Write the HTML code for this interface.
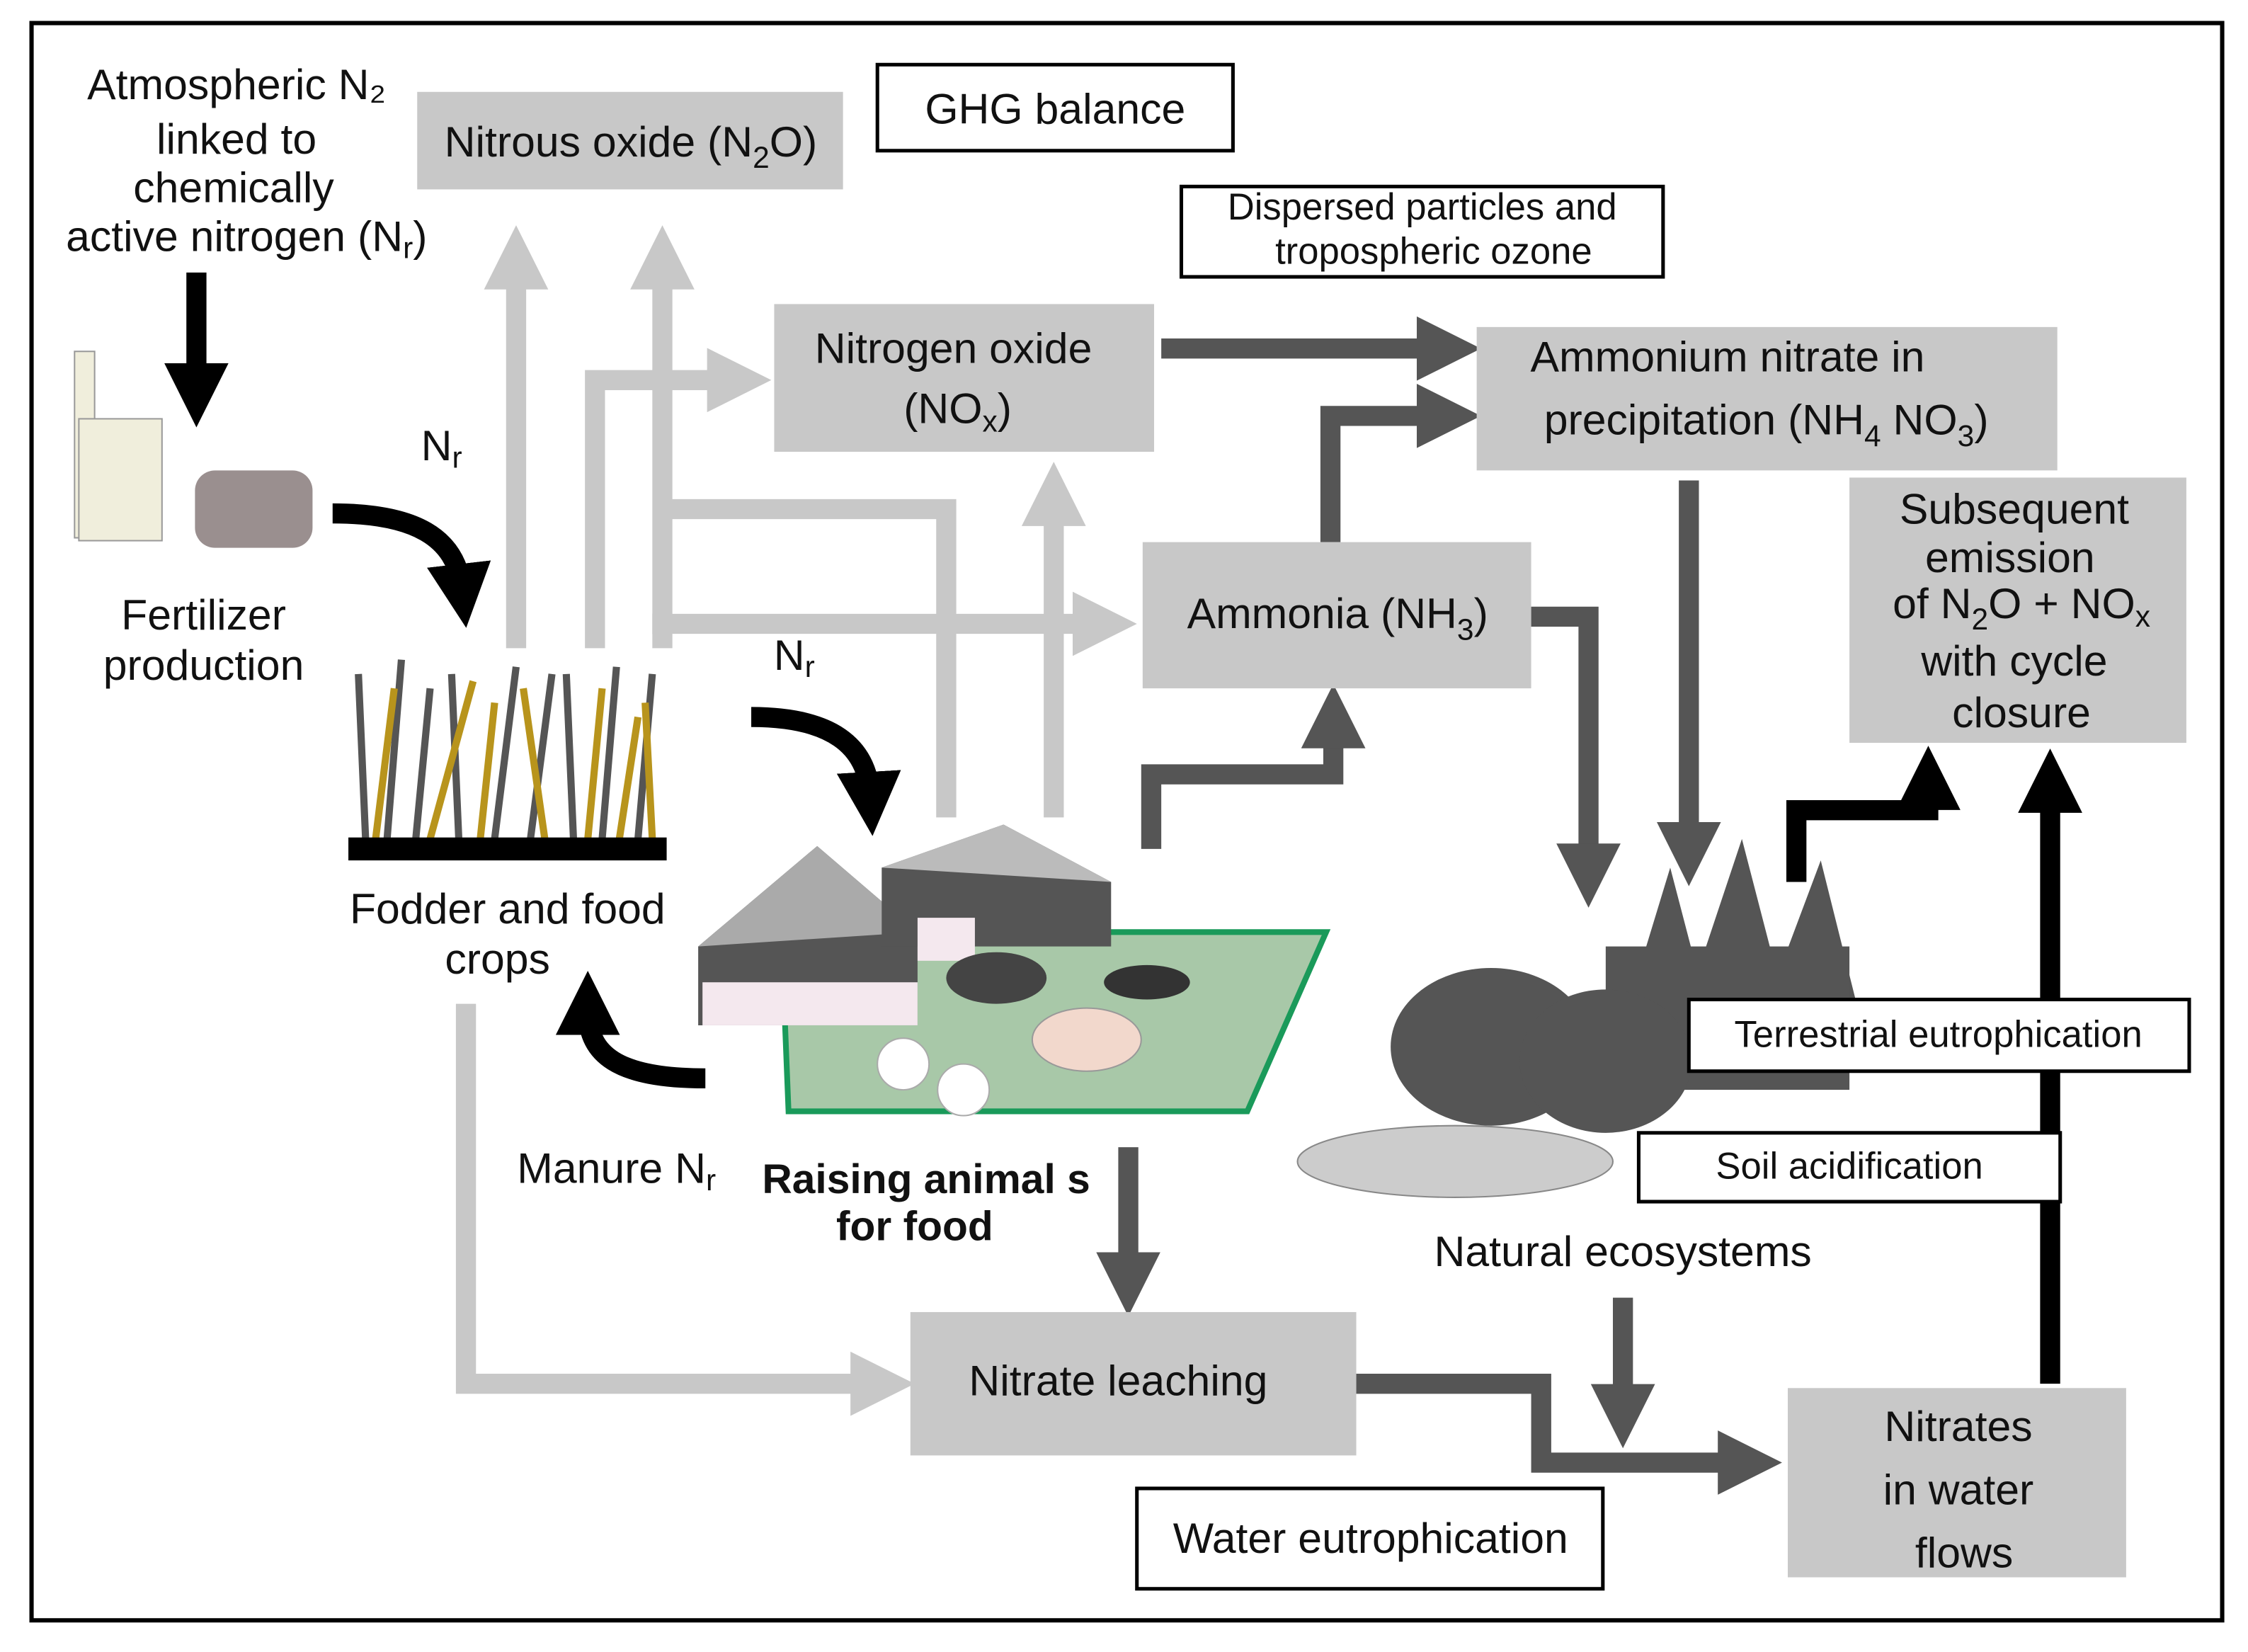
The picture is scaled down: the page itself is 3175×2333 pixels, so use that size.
<!DOCTYPE html>
<html><head><meta charset="utf-8"><style>
html,body{margin:0;padding:0;background:#fff}
svg{display:block}
text{font-family:"Liberation Sans","DejaVu Sans",sans-serif;fill:#111}
</style></head><body>
<svg width="3175" height="2333" viewBox="0 0 1568 1152" xmlns="http://www.w3.org/2000/svg">
<defs>
<marker id="lg" markerWidth="3.2" markerHeight="3.2" refX="1.2" refY="1.6" orient="auto" markerUnits="strokeWidth"><path d="M0,0 L3.2,1.6 L0,3.2 z" fill="#c8c8c8"/></marker>
<marker id="dg" markerWidth="3.2" markerHeight="3.2" refX="1.2" refY="1.6" orient="auto" markerUnits="strokeWidth"><path d="M0,0 L3.2,1.6 L0,3.2 z" fill="#555"/></marker>
<marker id="bk" markerWidth="3.2" markerHeight="3.2" refX="1.2" refY="1.6" orient="auto" markerUnits="strokeWidth"><path d="M0,0 L3.2,1.6 L0,3.2 z" fill="#000"/></marker>
</defs>
<rect x="22" y="16" width="1528" height="1114" fill="#fff" stroke="#000" stroke-width="3"/>

<g fill="none" stroke="#c8c8c8" stroke-width="14">
<path d="M360,452 V185" marker-end="url(#lg)"/>
<path d="M462,452 V185" marker-end="url(#lg)"/>
<path d="M415,452 V265 H510" marker-end="url(#lg)"/>
<path d="M660,570 V355 H462"/>
<path d="M735,570 V350" marker-end="url(#lg)"/>
<path d="M455,435 H765" marker-end="url(#lg)"/>
<path d="M325,700 V965 H610" marker-end="url(#lg)"/>
</g>
<g fill="none" stroke="#555" stroke-width="14">
<path d="M810,243 H1005" marker-end="url(#dg)"/>
<path d="M928,378 V290 H1005" marker-end="url(#dg)"/>
<path d="M803,592 V540 H930 V505" marker-end="url(#dg)"/>
<path d="M1068,430 H1108 V605" marker-end="url(#dg)"/>
<path d="M1178,335 V590" marker-end="url(#dg)"/>
<path d="M787,800 V890" marker-end="url(#dg)"/>
<path d="M946,965 H1075 V1020 H1215" marker-end="url(#dg)"/>
<path d="M1132,905 V982" marker-end="url(#dg)"/>
</g>
<g fill="none" stroke="#000" stroke-width="14">
<path d="M137,190 V270" marker-end="url(#bk)"/>
<path d="M1430,965 V550" marker-end="url(#bk)"/>
<path d="M1253,615 V565 H1345 V548" marker-end="url(#bk)"/>
<path d="M232,358 C290,358 318,375 322,410" marker-end="url(#bk)"/>
<path d="M524,500 C580,500 605,520 607,555" marker-end="url(#bk)"/>
<path d="M492,752 C430,752 410,735 410,705" marker-end="url(#bk)"/>
</g>

<g fill="#c8c8c8">
<rect x="291" y="64" width="297" height="68"/>
<rect x="540" y="212" width="265" height="103"/>
<rect x="1030" y="228" width="405" height="100"/>
<rect x="1290" y="333" width="235" height="185"/>
<rect x="797" y="378" width="271" height="102"/>
<rect x="635" y="915" width="311" height="100"/>
<rect x="1247" y="968" width="236" height="132"/>
</g>
<g fill="#fff" stroke="#000" stroke-width="2.5">
<rect x="612" y="45" width="248" height="60"/>
<rect x="824" y="130" width="336" height="63"/>
<rect x="793" y="1038" width="325" height="70"/>
</g>

<rect x="52" y="245" width="14" height="130" fill="#f0eedc" stroke="#999"/>
<rect x="55" y="292" width="58" height="85" fill="#f0eedc" stroke="#999"/>
<rect x="136" y="328" width="82" height="54" rx="14" fill="#9a8f8f"/>
<g stroke-width="5" fill="none">
<path d="M255,585 L250,470 M270,585 L280,460 M290,585 L300,480 M320,585 L315,470 M345,585 L360,465 M370,585 L385,470 M400,585 L395,470 M420,585 L430,465 M445,585 L455,470" stroke="#555"/>
<path d="M262,585 L275,480 M300,585 L330,475 M335,585 L345,490 M380,585 L365,480 M410,585 L420,480 M432,585 L445,500 M455,585 L450,490" stroke="#b8941c"/>
</g>
<rect x="243" y="584" width="222" height="16" fill="#000"/>
<polygon points="545,650 925,650 870,775 550,775" fill="#a8c8a8" stroke="#1a9a5a" stroke-width="4"/>
<polygon points="487,660 570,590 640,650 640,715 487,715" fill="#555"/>
<polygon points="487,660 570,590 640,650" fill="#aaa"/>
<rect x="490" y="685" width="150" height="30" fill="#f4e8ee"/>
<polygon points="615,605 700,575 775,615 775,660 615,660" fill="#555"/>
<polygon points="615,605 700,575 775,615" fill="#bbb"/>
<rect x="640" y="640" width="40" height="30" fill="#f4e8ee"/>
<ellipse cx="695" cy="682" rx="35" ry="18" fill="#444"/>
<ellipse cx="758" cy="725" rx="38" ry="22" fill="#f2d8cc" stroke="#999"/>
<circle cx="630" cy="742" r="18" fill="#fff" stroke="#aaa"/>
<circle cx="672" cy="760" r="18" fill="#fff" stroke="#aaa"/>
<ellipse cx="800" cy="685" rx="30" ry="12" fill="#333"/>
<g fill="#555">
<polygon points="1130,720 1165,605 1195,720"/>
<polygon points="1170,720 1215,585 1250,720"/>
<polygon points="1225,720 1270,600 1300,720"/>
<rect x="1120" y="660" width="170" height="100"/>
<ellipse cx="1040" cy="730" rx="70" ry="55"/>
<ellipse cx="1120" cy="740" rx="60" ry="50"/>
</g>
<ellipse cx="1015" cy="810" rx="110" ry="25" fill="#ccc" stroke="#888"/>

<g fill="#fff" stroke="#000" stroke-width="2.5">
<rect x="1178" y="697" width="349" height="50"/>
<rect x="1143" y="790" width="294" height="48"/>
</g>

<g font-size="30" text-anchor="middle">
<text x="440" y="109">Nitrous oxide (N<tspan font-size="21" dy="8">2</tspan><tspan dy="-8">O)</tspan></text>
<text x="736" y="86">GHG balance</text>
<text x="665" y="253">Nitrogen oxide</text>
<text x="668" y="295">(NO<tspan font-size="21" dy="6">x</tspan><tspan dy="-6">)</tspan></text>
<text x="1205" y="259">Ammonium nitrate  in</text>
<text x="1232" y="303">precipitation (NH<tspan font-size="21" dy="8">4</tspan><tspan dy="-8"> NO</tspan><tspan font-size="21" dy="8">3</tspan><tspan dy="-8">)</tspan></text>
<text x="1405" y="365">Subsequent</text>
<text x="1402" y="399">emission</text>
<text x="1410" y="431">of N<tspan font-size="21" dy="8">2</tspan><tspan dy="-8">O + NO</tspan><tspan font-size="21" dy="6">x</tspan></text>
<text x="1405" y="471">with cycle</text>
<text x="1410" y="507">closure</text>
<text x="933" y="438">Ammonia (NH<tspan font-size="21" dy="8">3</tspan><tspan dy="-8">)</tspan></text>
<text x="780" y="973">Nitrate leaching</text>
<text x="1366" y="1005">Nitrates</text>
<text x="1366" y="1049">in water</text>
<text x="1370" y="1093">flows</text>
<text x="956" y="1083">Water eutrophication</text>
<text x="165" y="69">Atmospheric N₂</text>
<text x="165" y="107">linked to</text>
<text x="163" y="141">chemically</text>
<text x="172" y="175">active nitrogen (N<tspan font-size="21" dy="5">r</tspan><tspan dy="-5">)</tspan></text>
<text x="142" y="439">Fertilizer</text>
<text x="142" y="474">production</text>
<text x="354" y="644">Fodder and food</text>
<text x="347" y="679">crops</text>
<text x="430" y="825">Manure N<tspan font-size="21" dy="5">r</tspan></text>
<text x="1132" y="883">Natural ecosystems</text>
<text x="308" y="321">N<tspan font-size="21" dy="5">r</tspan></text>
<text x="554" y="467">N<tspan font-size="21" dy="5">r</tspan></text>
</g>
<g font-size="29" text-anchor="middle" font-weight="bold">
<text x="646" y="832">Raising animal s</text>
<text x="638" y="865">for food</text>
</g>
<g font-size="26" text-anchor="middle">
<text x="992" y="153">Dispersed particles and</text>
<text x="1000" y="184">tropospheric ozone</text>
<text x="1352" y="730">Terrestrial eutrophication</text>
<text x="1290" y="822">Soil acidification</text>
</g>
</svg>
</body></html>
